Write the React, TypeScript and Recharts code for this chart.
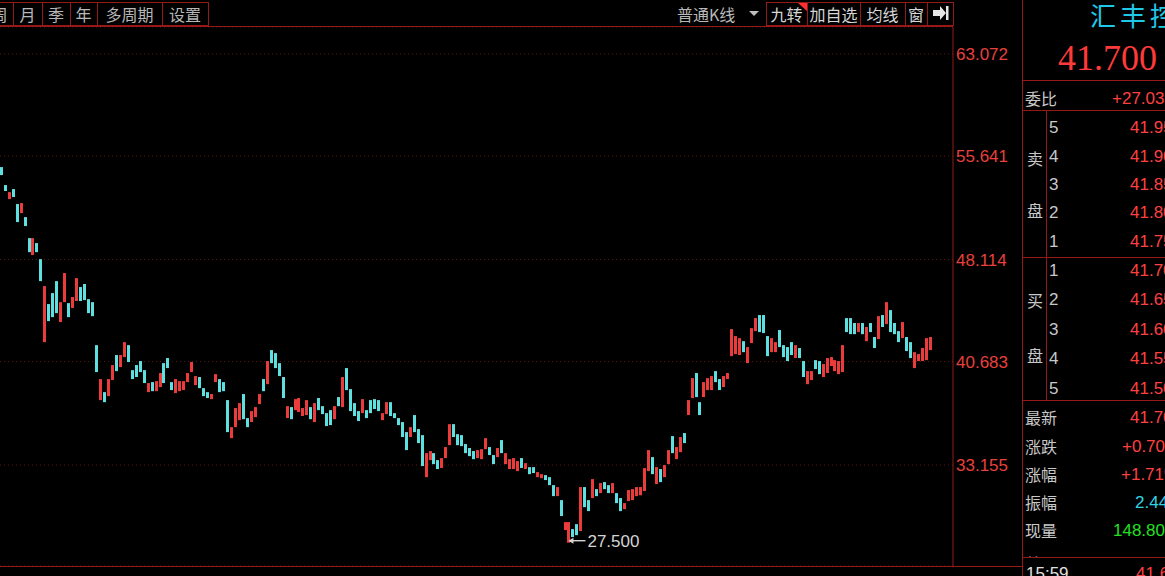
import React from 'react';
import { ComposedChart, Bar, XAxis, YAxis, CartesianGrid, ReferenceDot } from 'recharts';

// ---------- data ----------
const opens = [
  54.84, 53.53, 52.51, 53.24, 52.15, 51.49, 51.20, 49.67, 48.44, 49.31,
  48.14, 42.10, 44.87, 45.67, 46.54, 43.56, 45.01, 44.94, 44.58, 45.09,
  46.11, 46.33, 45.23, 45.01, 41.88, 37.88, 38.46, 38.17, 39.34, 41.16,
  40.28, 41.01, 41.88, 40.06, 40.43, 40.72, 40.06, 38.46, 39.19, 38.53,
  38.83, 40.57, 40.94, 39.19, 38.39, 38.53, 38.61, 39.19, 39.92, 38.97,
  39.56, 38.75, 38.46, 37.95, 39.19, 39.41, 39.19, 37.88, 35.11, 35.91,
  36.42, 38.32, 36.57, 36.28, 36.64, 37.59, 39.41, 39.04, 41.52, 41.30,
  40.57, 39.56, 36.57, 37.37, 37.15, 37.01, 36.72, 36.79, 37.37, 36.28,
  38.03, 37.44, 36.93, 37.15, 36.49, 38.10, 37.37, 40.21, 38.68, 37.66,
  37.08, 36.93, 37.15, 37.88, 37.95, 37.88, 36.42, 36.86, 37.73, 36.93,
  36.57, 36.28, 35.55, 35.19, 36.79, 35.77, 35.33, 32.27, 33.51, 34.02,
  33.51, 32.94, 33.66, 34.60, 36.13, 35.40, 35.33, 34.68, 34.39, 34.17,
  33.66, 33.58, 34.31, 34.46, 33.88, 33.73, 34.97, 33.22, 32.86, 32.86,
  32.71, 33.66, 32.86, 33.00, 33.00, 32.27, 32.20, 32.42, 32.27, 31.69,
  30.89, 30.60, 28.42, 27.50, 28.49, 28.85, 28.35, 31.55, 30.60, 30.75,
  31.40, 31.11, 31.91, 31.69, 31.11, 31.11, 30.75, 29.94, 30.53, 30.60,
  30.89, 30.95, 31.26, 32.71, 33.73, 31.77, 32.86, 32.27, 33.22, 35.26,
  33.58, 34.09, 35.48, 36.79, 38.03, 39.85, 37.73, 38.10, 38.61, 38.61,
  39.99, 39.41, 38.83, 39.41, 41.08, 41.23, 41.16, 42.17, 40.57, 42.03,
  42.90, 44.07, 44.07, 42.54, 41.37, 41.37, 42.98, 41.88, 41.74, 42.10,
  40.94, 41.67, 40.72, 39.04, 39.34, 40.79, 40.72, 39.56, 39.85, 40.36,
  39.99, 39.77, 39.92, 43.85, 43.85, 43.49, 42.83, 43.49, 42.17, 43.49,
  42.47, 42.32, 44.07, 43.41, 44.43, 43.49, 42.90, 42.39, 42.47, 42.10,
  40.21, 40.72, 40.72, 40.79, 41.52,
];
const closes = [
  54.26, 53.10, 53.02, 52.66, 50.84, 52.22, 50.55, 48.65, 49.67, 48.65,
  46.54, 46.18, 43.63, 43.92, 44.21, 45.01, 47.13, 43.92, 45.38, 46.76,
  45.09, 45.16, 44.21, 43.99, 39.92, 39.41, 37.73, 39.41, 40.43, 39.99,
  41.16, 42.10, 40.65, 39.41, 39.56, 39.92, 39.12, 39.12, 38.53, 39.26,
  39.85, 39.12, 40.21, 38.61, 39.41, 39.26, 39.26, 39.85, 40.65, 39.63,
  38.75, 38.17, 38.03, 38.32, 39.77, 38.46, 38.53, 35.55, 35.91, 37.30,
  37.66, 36.49, 35.91, 37.08, 37.37, 38.32, 38.53, 40.72, 40.57, 40.21,
  39.63, 38.03, 37.44, 36.49, 37.95, 38.03, 37.30, 37.88, 36.49, 37.66,
  37.15, 36.86, 35.99, 36.06, 37.44, 37.44, 39.56, 38.61, 37.08, 36.72,
  36.36, 37.95, 36.57, 36.93, 37.23, 37.08, 36.93, 37.73, 36.72, 36.57,
  36.06, 35.19, 34.24, 35.91, 35.55, 34.75, 33.08, 34.02, 34.17, 33.22,
  32.86, 33.66, 34.46, 36.13, 35.19, 34.60, 34.53, 34.02, 33.80, 33.58,
  34.24, 34.31, 35.11, 33.88, 33.22, 34.39, 34.02, 34.02, 33.58, 33.66,
  33.44, 32.94, 33.29, 32.49, 32.57, 32.64, 32.49, 32.06, 31.69, 30.89,
  31.55, 29.44, 29.00, 29.00, 27.91, 28.05, 31.55, 30.09, 29.80, 32.13,
  30.89, 31.84, 31.40, 31.11, 31.84, 30.38, 29.80, 30.38, 31.33, 31.40,
  31.55, 31.55, 32.93, 34.24, 32.49, 33.00, 31.91, 33.15, 34.24, 34.02,
  34.46, 35.19, 34.75, 37.88, 39.48, 38.10, 36.79, 39.19, 39.48, 39.63,
  39.19, 38.61, 39.63, 39.85, 43.05, 42.54, 42.39, 41.37, 41.74, 43.12,
  43.85, 42.83, 42.76, 41.08, 42.39, 42.10, 41.74, 41.01, 40.72, 41.16,
  41.88, 40.94, 39.56, 39.99, 39.99, 40.14, 39.77, 40.50, 40.94, 41.01,
  40.79, 40.72, 41.88, 42.83, 42.68, 42.68, 43.49, 42.68, 43.20, 42.83,
  41.67, 43.99, 43.20, 45.01, 42.83, 42.68, 42.10, 43.56, 41.45, 40.94,
  41.37, 41.23, 41.67, 42.39, 42.47,
];
const yTicks = [63.072, 55.641, 48.114, 40.683, 33.155];
const lowLabel = '27.500';

const leftTabs = ['周', '月', '季', '年', '多周期', '设置'];
const leftTabEdges = [-14, 13, 42, 70, 97, 162, 208];
const rightTabs = ['九转', '加自选', '均线', '窗'];
const rightTabEdges = [766, 807, 860, 905, 927, 953];

const askLevels = ['5', '4', '3', '2', '1'];
const askPrices = ['41.950', '41.900', '41.850', '41.800', '41.750'];
const bidLevels = ['1', '2', '3', '4', '5'];
const bidPrices = ['41.700', '41.650', '41.600', '41.550', '41.500'];

// ---------- styling ----------
const RED = '#ec3b3b';
const CYAN = '#5fe0e0';
const LINE = '#961818';
const GRID = '#5e1414';
const CJK = '"Noto Sans CJK SC", "Noto Sans", sans-serif';
const NUM = '"Liberation Sans", Arial, sans-serif';
const ASK_Y = [127, 156, 184, 212, 241];
const BID_Y = [270, 299, 329, 358, 388];

const data = opens.map((o, i) => ({
  idx: i,
  open: o,
  close: closes[i],
  range: [Math.min(o, closes[i]), Math.max(o, closes[i])],
}));
let lowIdx = 0;
data.forEach((d, i) => { if (d.range[0] < data[lowIdx].range[0]) lowIdx = i; });

const Candle = (props: any) => {
  const { x, y, width, height, payload } = props;
  if (x == null || y == null) return null;
  let yy = y;
  let h = height;
  if (h < 0) { yy = y + h; h = -h; }
  h = Math.max(1, h);
  const up = payload.close >= payload.open;
  return <rect x={Math.round(x + width / 2 - 1.5)} y={yy} width={3} height={h} fill={up ? RED : CYAN} />;
};

const LowMarker = (props: any) => {
  const { cx, cy } = props;
  if (cx == null || cy == null) return null;
  const c = '#d4d4d4';
  const ay = cy - 2;
  return (
    <g>
      <line x1={cx} y1={ay} x2={cx + 16} y2={ay} stroke={c} strokeWidth={1.4} />
      <path d={`M${cx - 1} ${ay} l5 -3 v6 z`} fill={c} />
      <text x={cx + 18} y={ay} dy="0.36em" fill={c} fontSize={17} fontFamily={NUM}>{lowLabel}</text>
    </g>
  );
};

const Txt = ({ x, y, children, color = '#c8c8c8', size = 16, family = CJK, w, spacing }: any) => (
  <div
    style={{
      position: 'absolute',
      left: x,
      top: y - size / 2,
      width: w,
      textAlign: w ? 'center' : 'left',
      fontSize: size,
      lineHeight: `${size}px`,
      height: size,
      color,
      fontFamily: family,
      whiteSpace: 'nowrap',
      letterSpacing: spacing,
    }}
  >
    {children}
  </div>
);

export default function App() {
  return (
    <div style={{ position: 'relative', width: 1165, height: 576, background: '#000', overflow: 'hidden' }}>
      <style>{`html,body{margin:0;padding:0;background:#000;}`}</style>

      <div style={{ position: 'absolute', left: 0, top: 0 }}>
        <ComposedChart width={1022} height={576} data={data} margin={{ top: 27, right: 0, bottom: 10, left: 0 }}>
          <CartesianGrid vertical={false} stroke={GRID} strokeDasharray="1 3" />
          <XAxis type="number" dataKey="idx" domain={[-0.428, 239.6]} allowDataOverflow hide />
          <YAxis
            orientation="right"
            width={69}
            domain={[25.804, 65.038]}
            allowDataOverflow
            ticks={yTicks}
            interval={0}
            tickFormatter={(v: number) => v.toFixed(3)}
            tickSize={0}
            tickMargin={3}
            tickLine={false}
            axisLine={{ stroke: LINE }}
            tick={{ fill: '#e8403c', fontSize: 17, fontFamily: NUM }}
          />
          <Bar dataKey="range" shape={Candle} barSize={3} isAnimationActive={false} />
          <ReferenceDot x={lowIdx} y={data[lowIdx].range[0]} r={0} shape={LowMarker} />
        </ComposedChart>
      </div>

      {/* decorative frame lines */}
      <svg width={1165} height={576} style={{ position: 'absolute', left: 0, top: 0, pointerEvents: 'none' }}>
        {leftTabEdges.slice(0, -1).map((e, i) => (
          <rect key={'l' + i} x={e + 0.5} y={2.5} width={leftTabEdges[i + 1] - e} height={23} fill="none" stroke={LINE} />
        ))}
        {rightTabEdges.slice(0, -1).map((e, i) => (
          <rect key={'r' + i} x={e + 0.5} y={2.5} width={rightTabEdges[i + 1] - e} height={23} fill="none" stroke={LINE} />
        ))}
        <polygon points="798,3 807,3 807,11" fill="#ff3030" />
        <polygon points="749,11 759,11 754,16" fill="#bdbdbd" />
        <polygon points="933,10 940,10 940,6 946,13 940,20 940,16 933,16" fill="#e6e6e6" />
        <rect x={946} y={6} width={2.5} height={14} fill="#e6e6e6" />
        <line x1={0} y1={26.5} x2={953} y2={26.5} stroke={LINE} />
        <line x1={1022.5} y1={0} x2={1022.5} y2={576} stroke={LINE} />
        <line x1={0} y1={566.5} x2={1022} y2={566.5} stroke={LINE} />
        {[80.5, 110.5, 257.5, 400.5, 557.5].map((y) => (
          <line key={y} x1={1022} y1={y} x2={1165} y2={y} stroke={LINE} />
        ))}
        <line x1={1046.5} y1={110} x2={1046.5} y2={400} stroke={LINE} />
      </svg>

      {/* toolbar text */}
      {leftTabs.map((t, i) => (
        <Txt key={t} x={leftTabEdges[i]} w={leftTabEdges[i + 1] - leftTabEdges[i]} y={14} color="#b8b8b8">{t}</Txt>
      ))}
      <Txt x={677} y={14} color="#b8b8b8">普通K线</Txt>
      {rightTabs.map((t, i) => (
        <Txt key={t} x={rightTabEdges[i]} w={rightTabEdges[i + 1] - rightTabEdges[i]} y={14} color="#d6d6d6">{t}</Txt>
      ))}

      {/* quote panel */}
      <Txt x={1090} y={15} size={26} color="#1ec8e6" spacing={4}>汇丰控股</Txt>
      <Txt x={1058} y={58} size={36} color="#ff3a3a" family={'"Liberation Serif", "Times New Roman", serif'}>41.700</Txt>
      <Txt x={1025} y={98}>委比</Txt>
      <Txt x={1112} y={98} size={17} color="#ff4040" family={NUM}>+27.03%</Txt>
      <Txt x={1027} y={158}>卖</Txt>
      <Txt x={1027} y={210}>盘</Txt>
      {askLevels.map((l, i) => (
        <React.Fragment key={'a' + i}>
          <Txt x={1049} y={ASK_Y[i]} size={17} family={NUM}>{l}</Txt>
          <Txt x={1130} y={ASK_Y[i]} size={17} color="#ff4040" family={NUM}>{askPrices[i]}</Txt>
        </React.Fragment>
      ))}
      <Txt x={1027} y={300}>买</Txt>
      <Txt x={1027} y={355}>盘</Txt>
      {bidLevels.map((l, i) => (
        <React.Fragment key={'b' + i}>
          <Txt x={1049} y={BID_Y[i]} size={17} family={NUM}>{l}</Txt>
          <Txt x={1130} y={BID_Y[i]} size={17} color="#ff4040" family={NUM}>{bidPrices[i]}</Txt>
        </React.Fragment>
      ))}
      <Txt x={1025} y={417}>最新</Txt>
      <Txt x={1130} y={417} size={17} color="#ff4040" family={NUM}>41.700</Txt>
      <Txt x={1025} y={446}>涨跌</Txt>
      <Txt x={1122} y={446} size={17} color="#ff4040" family={NUM}>+0.700</Txt>
      <Txt x={1025} y={474}>涨幅</Txt>
      <Txt x={1121} y={474} size={17} color="#ff4040" family={NUM}>+1.71%</Txt>
      <Txt x={1025} y={502}>振幅</Txt>
      <Txt x={1135} y={502} size={17} color="#30d4e6" family={NUM}>2.44%</Txt>
      <Txt x={1025} y={530}>现量</Txt>
      <Txt x={1113} y={530} size={17} color="#22e022" family={NUM}>148.80</Txt>
      <div style={{ position: 'absolute', left: 1023, top: 540, width: 142, height: 17, overflow: 'hidden' }}>
        <Txt x={2} y={23}>总量</Txt>
      </div>
      <Txt x={1026} y={573} size={17} color="#e0e0e0" family={NUM}>15:59</Txt>
      <Txt x={1136} y={573} size={17} color="#ff4040" family={NUM}>41.650</Txt>
    </div>
  );
}
